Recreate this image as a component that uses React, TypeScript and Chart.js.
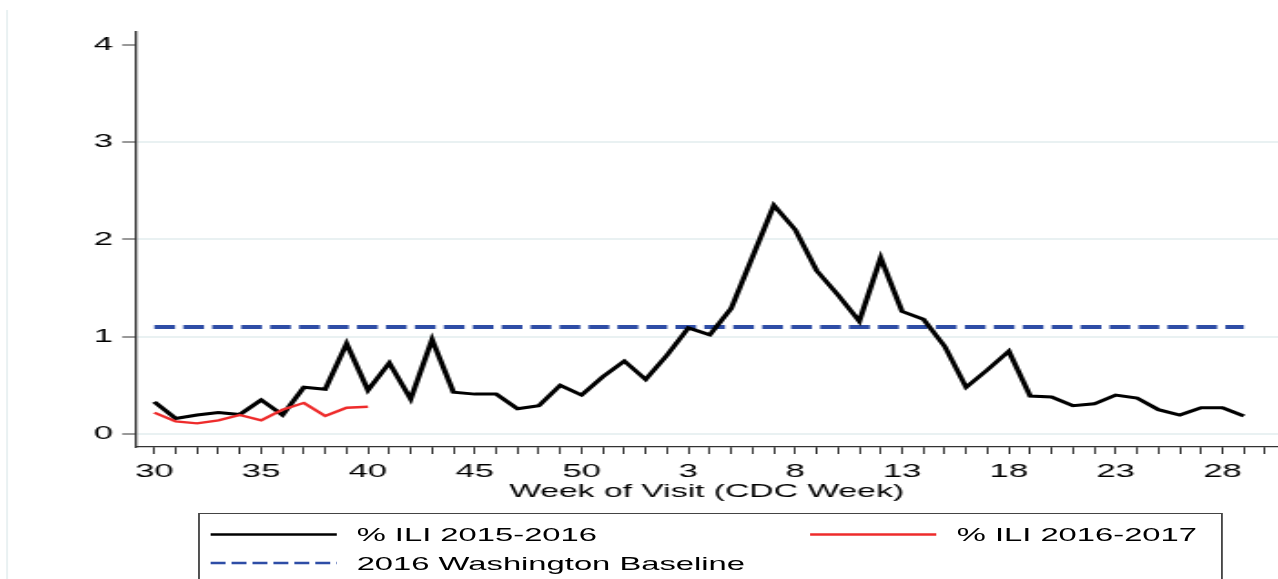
import React, { useEffect, useRef } from 'react';
import { Chart, registerables } from 'chart.js';

Chart.register(...registerables);

// CDC weeks, season running from week 30 to week 29 of the next year
const weeks = [
  30, 31, 32, 33, 34, 35, 36, 37, 38, 39, 40, 41, 42, 43, 44, 45, 46, 47, 48, 49, 50, 51, 52,
  1, 2, 3, 4, 5, 6, 7, 8, 9, 10, 11, 12, 13, 14, 15, 16, 17, 18, 19, 20, 21, 22, 23, 24, 25, 26, 27, 28, 29,
];

// % ILI 2015-2016 season
const ili20152016 = [
  0.33, 0.16, 0.195, 0.22, 0.2, 0.35, 0.195, 0.48, 0.46, 0.93, 0.45, 0.73, 0.36, 0.97, 0.43, 0.41, 0.41, 0.26, 0.29, 0.5, 0.4, 0.59, 0.75,
  0.56, 0.81, 1.09, 1.02, 1.29, 1.82, 2.35, 2.1, 1.68, 1.43, 1.16, 1.81, 1.26, 1.18, 0.9, 0.48, 0.66, 0.85, 0.39, 0.38, 0.29, 0.31, 0.4, 0.37, 0.25, 0.195, 0.27, 0.27, 0.185,
];

// % ILI 2016-2017 season (weeks 30-40 so far)
const ili20162017 = [0.22, 0.13, 0.11, 0.14, 0.195, 0.14, 0.25, 0.32, 0.185, 0.27, 0.28];

// 2016 Washington baseline
const baselineValue = 1.1;

const yTickValues = [0, 1, 2, 3, 4];
const xLabelWeeks = [30, 35, 40, 45, 50, 3, 8, 13, 18, 23, 28];

const legendItems = [
  { label: '% ILI 2015-2016', color: '#000000', dash: '' },
  { label: '% ILI 2016-2017', color: '#ee2b2b', dash: '' },
  { label: '2016 Washington Baseline', color: '#2e4da6', dash: '8.2 3.3' },
];

const W = 702;
const H = 579;
const SX = 1278 / W;
const FONT = '"Liberation Sans", Arial, Helvetica, sans-serif';

export default function App() {
  const ref = useRef<HTMLCanvasElement>(null);

  useEffect(() => {
    if (!ref.current) return;
    const pts = (vals: number[]) => vals.map((v, i) => ({ x: i, y: v }));
    const chart = new Chart(ref.current, {
      type: 'line',
      data: {
        datasets: [
          {
            label: '% ILI 2016-2017',
            data: pts(ili20162017),
            borderColor: '#ee2b2b',
            borderWidth: 2.3,
            pointRadius: 0,
            tension: 0,
          },
          {
            label: '% ILI 2015-2016',
            data: pts(ili20152016),
            borderColor: '#000000',
            borderWidth: 3,
            pointRadius: 0,
            tension: 0,
          },
          {
            label: '2016 Washington Baseline',
            data: weeks.map((_, i) => ({ x: i, y: baselineValue })),
            borderColor: '#2e4da6',
            borderWidth: 4,
            borderDash: [11.4, 4.5],
            borderCapStyle: 'butt',
            pointRadius: 0,
            tension: 0,
          },
        ],
      },
      options: {
        responsive: false,
        animation: false,
        devicePixelRatio: 1,
        layout: { padding: { top: 32, left: 0, right: 0, bottom: 0 } },
        plugins: { legend: { display: false }, tooltip: { enabled: false } },
        scales: {
          x: {
            type: 'linear',
            min: -0.9,
            max: 52.6,
            afterFit: (s: any) => {
              s.height = 132;
            },
            afterBuildTicks: (s: any) => {
              const t: any[] = [];
              for (let i = 0; i <= Math.floor(s.max); i++) t.push({ value: i });
              s.ticks = t;
            },
            ticks: {
              autoSkip: false,
              maxRotation: 0,
              minRotation: 0,
              padding: 6,
              color: '#000',
              font: { family: FONT, size: 19 },
              callback: (value: any) => {
                const w = weeks[value as number];
                return w !== undefined && xLabelWeeks.includes(w) ? String(w) : '';
              },
            },
            grid: {
              drawOnChartArea: false,
              drawTicks: true,
              tickLength: 7,
              tickColor: '#333',
              tickWidth: 1,
            },
            border: { display: true, color: '#333', width: 1.2 },
            title: {
              display: true,
              text: 'Week of Visit (CDC Week)',
              color: '#000',
              font: { family: FONT, size: 18.5 },
              padding: { top: 0, bottom: 76.4 },
            },
          },
          y: {
            type: 'linear',
            min: -0.1336,
            max: 4.1316,
            afterFit: (s: any) => {
              s.width = 74.2;
            },
            afterBuildTicks: (s: any) => {
              s.ticks = yTickValues.map((v) => ({ value: v }));
            },
            ticks: {
              padding: 5,
              color: '#000',
              font: { family: FONT, size: 19 },
              callback: (value: any) => String(value),
            },
            grid: {
              drawOnChartArea: true,
              drawTicks: true,
              tickLength: 7.1,
              lineWidth: 2,
              color: (ctx: any) => (ctx.tick && ctx.tick.value === 4 ? 'rgba(0,0,0,0)' : '#e9f1f2'),
              tickColor: '#333',
              tickWidth: 1,
            },
            border: { display: true, color: '#333', width: 1.3 },
          },
        },
      },
    } as any);
    return () => chart.destroy();
  }, []);

  const rowY = [534.5, 534.5, 563];
  const sampleX = [115.7, 445, 115.7];
  const textX = [195.9, 525.5, 195.9];
  const sampleLen = 69.3;

  return (
    <div style={{ position: 'absolute', left: 0, top: 0, width: 1278, height: 579, overflow: 'hidden', background: '#fff' }}>
      <div style={{ position: 'absolute', left: 0, top: 0, width: W, height: H, transform: `scaleX(${SX})`, transformOrigin: '0 0' }}>
        <canvas ref={ref} width={W} height={H} style={{ position: 'absolute', left: 0, top: 0, display: 'block' }} />
        <svg width={W} height={H} style={{ position: 'absolute', left: 0, top: 0, pointerEvents: 'none' }}>
          <line x1={3.9} y1={10} x2={3.9} y2={H} stroke="#e9f1f2" strokeWidth={1.1} />
          <rect x={109.3} y={513.5} width={561.9} height={80} fill="none" stroke="#444" strokeWidth={1} />
          {legendItems.map((it, i) => (
            <g key={i}>
              <line
                x1={sampleX[i]}
                y1={rowY[i]}
                x2={sampleX[i] + sampleLen}
                y2={rowY[i]}
                stroke={it.color}
                strokeWidth={2.4}
                strokeDasharray={it.dash || undefined}
              />
              <text x={textX[i]} y={rowY[i] + 6.6} fontFamily={FONT} fontSize={18} fill="#000">
                {it.label}
              </text>
            </g>
          ))}
        </svg>
      </div>
    </div>
  );
}
